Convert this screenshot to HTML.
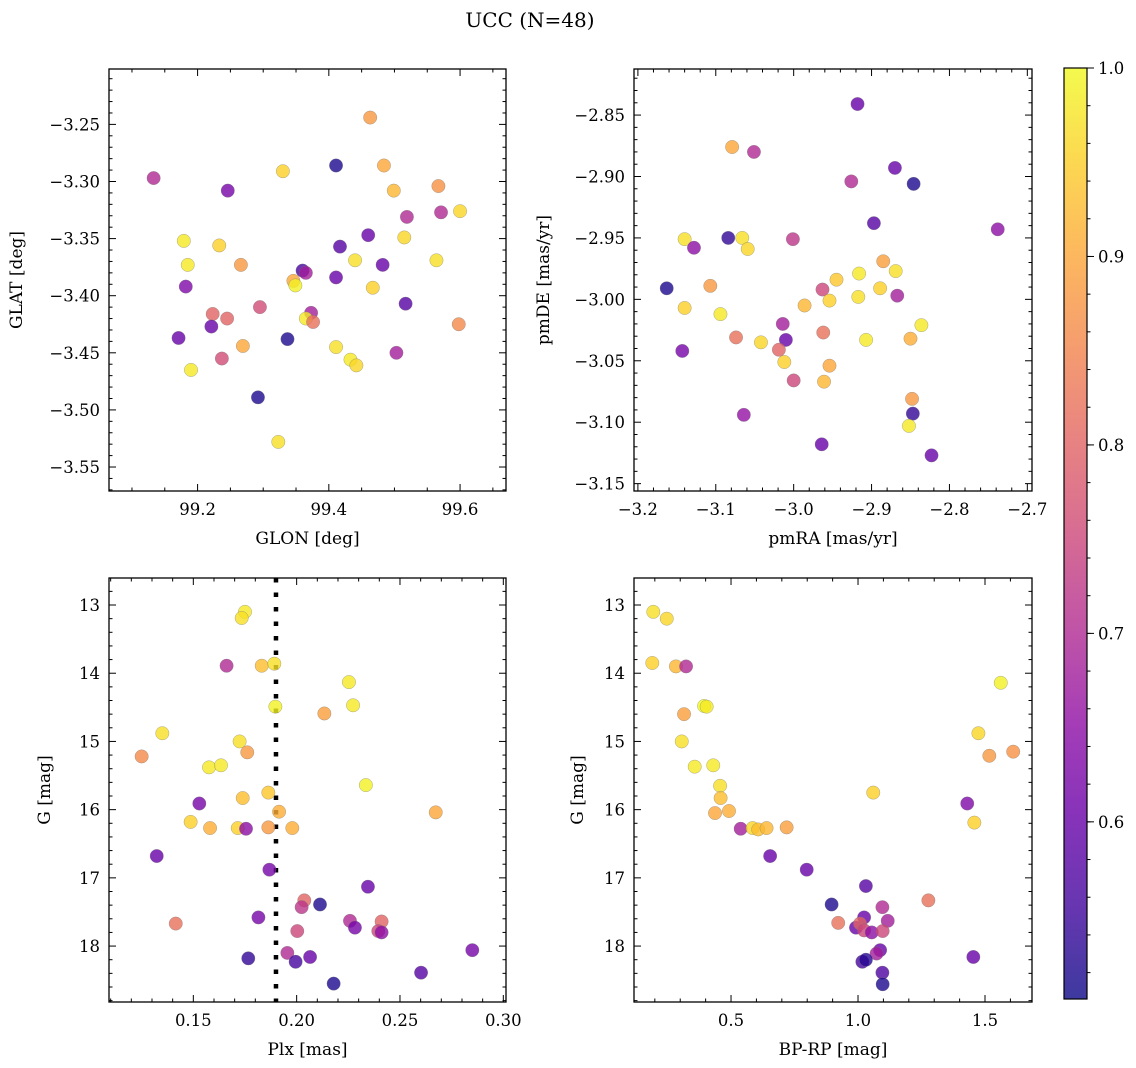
<!DOCTYPE html>
<html><head><meta charset="utf-8">
<style>
html,body{margin:0;padding:0;background:#fff;}
svg{display:block;font-family:"DejaVu Serif","Liberation Serif",serif;}
</style></head>
<body>
<svg id="chart" width="1136" height="1068" viewBox="0 0 1136 1068" xmlns="http://www.w3.org/2000/svg">
<rect width="1136" height="1068" fill="#fff"/>
<text x="530" y="27" font-size="20" text-anchor="middle">UCC (N=48)</text>
</svg>
<script>
// ---- data ----
const glon = [99.463,99.330,99.411,99.484,99.133,99.246,99.499,99.567,99.571,99.600,99.519,99.460,99.515,99.179,99.233,99.417,99.185,99.266,99.440,99.564,99.482,99.360,99.365,99.346,99.349,99.411,99.182,99.467,99.517,99.295,99.223,99.245,99.373,99.365,99.376,99.598,99.221,99.171,99.337,99.269,99.411,99.503,99.237,99.433,99.442,99.190,99.292,99.323];
const glat = [-3.244,-3.291,-3.286,-3.286,-3.297,-3.308,-3.308,-3.304,-3.327,-3.326,-3.331,-3.347,-3.349,-3.352,-3.356,-3.357,-3.373,-3.373,-3.369,-3.369,-3.373,-3.378,-3.380,-3.387,-3.391,-3.384,-3.392,-3.393,-3.407,-3.410,-3.416,-3.420,-3.415,-3.420,-3.423,-3.425,-3.427,-3.437,-3.438,-3.444,-3.445,-3.450,-3.455,-3.456,-3.461,-3.465,-3.489,-3.528];
const probPos = [.88,.95,.52,.9,.7,.62,.92,.87,.7,.96,.7,.6,.96,.98,.95,.58,.98,.88,.97,.97,.6,.56,.68,.9,.99,.6,.63,.95,.58,.76,.8,.8,.68,.98,.82,.86,.6,.6,.52,.9,.97,.68,.76,.98,.96,.98,.52,.97];

const pmra = [-2.918,-3.079,-3.051,-2.870,-2.926,-2.846,-2.897,-2.738,-3.140,-3.128,-3.084,-3.066,-3.059,-3.001,-2.885,-2.869,-2.945,-2.916,-2.889,-2.867,-2.963,-2.954,-2.917,-3.163,-3.107,-3.140,-2.986,-3.094,-3.014,-2.836,-2.962,-3.074,-3.042,-3.010,-2.907,-2.850,-3.143,-3.019,-3.012,-2.954,-3.000,-2.961,-2.848,-2.847,-2.852,-3.064,-2.964,-2.823];
const pmde = [-2.841,-2.876,-2.880,-2.893,-2.904,-2.906,-2.938,-2.943,-2.951,-2.958,-2.950,-2.950,-2.959,-2.951,-2.969,-2.977,-2.984,-2.979,-2.991,-2.997,-2.992,-3.001,-2.998,-2.991,-2.989,-3.007,-3.005,-3.012,-3.020,-3.021,-3.027,-3.031,-3.035,-3.033,-3.033,-3.032,-3.042,-3.041,-3.051,-3.054,-3.066,-3.067,-3.081,-3.093,-3.103,-3.094,-3.118,-3.127];
const probPm = [.6,.9,.7,.6,.7,.52,.58,.65,.97,.65,.54,.97,.96,.72,.89,.97,.94,.98,.95,.68,.75,.95,.97,.52,.88,.95,.92,.98,.68,.98,.82,.82,.96,.6,.98,.91,.62,.8,.95,.9,.75,.92,.88,.54,.98,.66,.6,.6];

const plx = [.175,.1734,.1661,.1831,.1892,.2253,.2273,.2134,.1897,.135,.125,.1724,.1761,.1576,.1634,.2335,.1529,.1739,.1863,.1915,.2673,.1487,.1581,.1715,.1755,.1863,.1979,.1323,.1868,.2345,.2037,.2024,.2113,.1815,.1415,.2258,.2282,.2411,.2395,.2411,.2003,.1766,.1955,.1995,.2065,.285,.2602,.2179];
const gPlx = [13.10,13.19,13.89,13.89,13.86,14.13,14.47,14.59,14.49,14.88,15.22,15.00,15.16,15.38,15.35,15.64,15.91,15.83,15.75,16.03,16.04,16.18,16.27,16.27,16.28,16.26,16.27,16.68,16.88,17.13,17.33,17.43,17.39,17.58,17.67,17.63,17.73,17.64,17.78,17.80,17.78,18.18,18.10,18.23,18.16,18.06,18.39,18.55];
const probPlx = [.98,.97,.7,.93,.97,.98,.98,.89,.99,.97,.86,.97,.88,.98,.98,.99,.62,.93,.94,.91,.9,.95,.91,.95,.65,.88,.91,.6,.62,.6,.8,.72,.52,.62,.82,.7,.62,.8,.75,.65,.75,.54,.7,.56,.6,.62,.58,.52];
const plxCut = 0.19;

const bprp = [.194,.247,.190,.283,.323,.394,.404,.315,.306,.357,.43,.457,.459,.437,.492,.538,.585,.607,.64,.719,.654,.798,.896,.922,1.031,1.024,.992,1.008,1.024,1.054,1.096,1.117,1.097,1.087,1.073,1.017,1.031,1.096,1.097,1.06,1.277,1.43,1.458,1.454,1.474,1.517,1.611,1.562];
const gCmd = [13.10,13.20,13.85,13.90,13.90,14.48,14.49,14.60,15.00,15.37,15.35,15.65,15.83,16.05,16.02,16.28,16.27,16.29,16.27,16.26,16.68,16.88,17.39,17.66,17.12,17.58,17.73,17.67,17.77,17.80,17.43,17.63,17.78,18.06,18.11,18.23,18.20,18.39,18.56,15.75,17.33,15.91,16.19,18.16,14.88,15.21,15.15,14.14];
const probCmd = [.97,.96,.95,.92,.7,1.0,.98,.89,.97,.98,.98,.97,.93,.9,.91,.68,.96,.93,.92,.89,.6,.6,.52,.82,.58,.6,.6,.8,.75,.65,.7,.68,.75,.6,.68,.56,.53,.57,.52,.95,.82,.63,.95,.6,.96,.88,.87,.99];

const cbTicks = [0.6,0.7,0.8,0.9,1.0];
const vmin = 0.506, vmax = 1.0;

// ---- helpers ----
const NS = "http://www.w3.org/2000/svg";
const svg = document.getElementById('chart');
function el(tag, attrs, parent){
  const e = document.createElementNS(NS, tag);
  for (const k in attrs) e.setAttribute(k, attrs[k]);
  (parent||svg).appendChild(e);
  return e;
}
const stops = ["#0d0887","#41049d","#6a00a8","#8f0da4","#b12a90","#cc4778","#e16462","#f2844b","#fca636","#fcce25","#f0f921"];
function hex(h){return [parseInt(h.substr(1,2),16),parseInt(h.substr(3,2),16),parseInt(h.substr(5,2),16)];}
function plasma(t){
  t=Math.max(0,Math.min(1,t));
  const f=t*10, i=Math.min(9,Math.floor(f)), r=f-i;
  const a=hex(stops[i]), b=hex(stops[i+1]);
  return 'rgb('+a.map((v,k)=>Math.round(v+(b[k]-v)*r)).join(',')+')';
}
function colorOf(p){return plasma((p-vmin)/(vmax-vmin));}
function fmt(v,d){const s=v.toFixed(d);return s.replace('-','\u2212');}

function panel(cfg){
  const g = el('g',{});
  
  
  const L=cfg.L,R=cfg.R,T=cfg.T,B=cfg.B;
  const sx = v => L + (v-cfg.x0)/(cfg.x1-cfg.x0)*(R-L);
  const sy = cfg.yInvert ? (v => T + (v-cfg.y0)/(cfg.y1-cfg.y0)*(B-T)) : (v => B - (v-cfg.y0)/(cfg.y1-cfg.y0)*(B-T));
  if (cfg.vline!==undefined){
    const ln = el('line',{x1:sx(cfg.vline),x2:sx(cfg.vline),y1:T,y2:B,stroke:'#000','stroke-width':4.5,'stroke-dasharray':'4.5 10'},g);
    
    
  }
  for (let i=0;i<cfg.xs.length;i++){
    const c = el('circle',{cx:sx(cfg.xs[i]),cy:sy(cfg.ys[i]),r:6.7,fill:colorOf(cfg.ps[i]),'fill-opacity':0.8,stroke:'#777','stroke-opacity':0.6,'stroke-width':0.5},g);
    
    
  }
  const fr = el('rect',{x:L,y:T,width:R-L,height:B-T,fill:'none',stroke:'#000','stroke-width':1.3},g);
  
  
  const eps=1e-9;
  for (let k=Math.ceil((cfg.x0)/cfg.xminor-eps); k*cfg.xminor<=cfg.x1+eps; k++){
    const v=k*cfg.xminor, x=sx(v);
    const major = Math.abs(v/cfg.xmajor - Math.round(v/cfg.xmajor))<1e-6;
    const len = major?7:3.5;
    el('line',{x1:x,x2:x,y1:B,y2:B-len,stroke:'#000','stroke-width':1},g);
    el('line',{x1:x,x2:x,y1:T,y2:T+len,stroke:'#000','stroke-width':1},g);
    if (major){
      const t = el('text',{x:x,y:B+24,'font-size':16.5,'text-anchor':'middle'},g);
      t.textContent = fmt(v,cfg.xdec);
      
      
    }
  }
  const ylo=Math.min(cfg.y0,cfg.y1), yhi=Math.max(cfg.y0,cfg.y1);
  for (let k=Math.ceil(ylo/cfg.yminor-eps); k*cfg.yminor<=yhi+eps; k++){
    const v=k*cfg.yminor, y=sy(v);
    const major = Math.abs(v/cfg.ymajor - Math.round(v/cfg.ymajor))<1e-6;
    const len = major?7:3.5;
    el('line',{x1:L,x2:L+len,y1:y,y2:y,stroke:'#000','stroke-width':1},g);
    el('line',{x1:R,x2:R-len,y1:y,y2:y,stroke:'#000','stroke-width':1},g);
    if (major){
      const t = el('text',{x:L-9,y:y+6,'font-size':16.5,'text-anchor':'end'},g);
      t.textContent = fmt(v,cfg.ydec);
      
      
    }
  }
  const xl = el('text',{x:(L+R)/2,y:B+53,'font-size':17,'text-anchor':'middle'},g);
  xl.textContent = cfg.xlabel;
  
  
  const yl = el('text',{x:0,y:0,'font-size':17,'text-anchor':'middle',transform:'translate('+cfg.ylx+','+((T+B)/2)+') rotate(-90)'},g);
  yl.textContent = cfg.ylabel;
  
  
}

panel({name:'position-panel',L:109,R:506,T:69,B:491,x0:99.065,x1:99.670,y0:-3.571,y1:-3.2015,
  xs:glon,ys:glat,ps:probPos,xmajor:0.2,xminor:0.05,ymajor:0.05,yminor:0.01,xdec:1,ydec:2,
  xlabel:'GLON [deg]',ylabel:'GLAT [deg]',ylx:22});
panel({name:'proper-motion-panel',L:634,R:1032,T:69,B:491,x0:-3.205,x1:-2.694,y0:-3.156,y1:-2.8125,
  xs:pmra,ys:pmde,ps:probPm,xmajor:0.1,xminor:0.02,ymajor:0.05,yminor:0.01,xdec:1,ydec:2,
  xlabel:'pmRA [mas/yr]',ylabel:'pmDE [mas/yr]',ylx:549});
panel({name:'parallax-panel',L:109,R:506,T:578,B:1002,x0:0.1092,x1:0.3013,y0:12.604,y1:18.82,yInvert:true,
  xs:plx,ys:gPlx,ps:probPlx,xmajor:0.05,xminor:0.01,ymajor:1,yminor:0.2,xdec:2,ydec:0,vline:plxCut,
  xlabel:'Plx [mas]',ylabel:'G [mag]',ylx:50});
panel({name:'cmd-panel',L:634,R:1032,T:578,B:1002,x0:0.118,x1:1.685,y0:12.604,y1:18.82,yInvert:true,
  xs:bprp,ys:gCmd,ps:probCmd,xmajor:0.5,xminor:0.1,ymajor:1,yminor:0.2,xdec:1,ydec:0,
  xlabel:'BP-RP [mag]',ylabel:'G [mag]',ylx:583});

(function(){
  const L=1064,R=1087,T=68,B=999;
  const g = el('g',{});
  
  
  const defs = el('defs',{},g);
  const lg = el('linearGradient',{id:'cbgrad',x1:0,y1:1,x2:0,y2:0},defs);
  for (let i=0;i<=20;i++){
    const t=i/20, v=vmin+t*(vmax-vmin);
    el('stop',{offset:t,'stop-color':colorOf(v),'stop-opacity':0.8},lg);
  }
  const r = el('rect',{x:L,y:T,width:R-L,height:B-T,fill:'url(#cbgrad)',stroke:'#000','stroke-width':1.2},g);
  
  
  const sy = v => B - (v-vmin)/(vmax-vmin)*(B-T);
  for (let k=Math.ceil(vmin/0.02); k*0.02<=vmax+1e-9; k++){
    const v=k*0.02;
    el('line',{x1:R,x2:R+3.5,y1:sy(v),y2:sy(v),stroke:'#000','stroke-width':1},g);
  }
  for (const v of cbTicks){
    el('line',{x1:R,x2:R+7,y1:sy(v),y2:sy(v),stroke:'#000','stroke-width':1},g);
    const t = el('text',{x:R+11,y:sy(v)+6,'font-size':16.5},g);
    t.textContent = v.toFixed(1);
    
    
  }
})();
</script>
</body></html>
